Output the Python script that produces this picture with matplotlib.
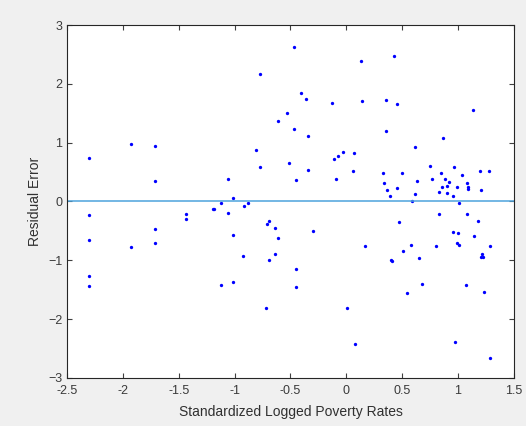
import numpy as np
import matplotlib
matplotlib.use('Agg')
import matplotlib.pyplot as plt

# standardized logged poverty rate (x) and residual error (y)
pov = [-2.30, -2.30, -2.30, -2.30, -2.30,
       -1.93, -1.93,
       -1.71, -1.71, -1.71, -1.71,
       -1.435, -1.435, -1.19, -1.18, -1.119, -1.119, -1.063, -1.063, -1.012, -1.012, -1.012,
       -0.92, -0.922, -0.881, -0.806, -0.777, -0.777, -0.717, -0.714, -0.69, -0.69,
       -0.637, -0.637, -0.613, -0.613, -0.527, -0.509, -0.47, -0.47, -0.453, -0.453, -0.453,
       -0.405, -0.357, -0.342, -0.342, -0.30, -0.125, -0.107, -0.089, -0.077, -0.03,
       0.006, 0.06, 0.065, 0.078, 0.134, 0.137, 0.167,
       0.324, 0.339, 0.354, 0.357, 0.363, 0.393, 0.396, 0.411, 0.43, 0.452, 0.455, 0.476,
       0.5, 0.509, 0.539, 0.583, 0.589, 0.616, 0.616, 0.634, 0.649, 0.676,
       0.75, 0.771, 0.806, 0.83, 0.83, 0.845, 0.857, 0.866, 0.881, 0.899, 0.902, 0.917,
       0.952, 0.955, 0.961, 0.97, 0.988, 0.991, 0.997, 1.009, 1.012, 1.039,
       1.069, 1.078, 1.08, 1.086, 1.089, 1.137, 1.146, 1.179, 1.196, 1.205, 1.205,
       1.217, 1.22, 1.232, 1.28, 1.283, 1.283]
resid = [0.737, -0.226, -0.656, -1.273, -1.43,
         0.975, -0.78,
         0.94, 0.346, -0.475, -0.713,
         -0.214, -0.294, -0.136, -0.136, -0.03, -1.426, 0.374, -0.204, 0.058, -0.57, -1.363,
         -0.08, -0.92, -0.03, 0.883, 2.16, 0.584, -1.817, -0.39, -0.333, -0.995,
         -0.45, -0.90, 1.375, -0.617, 1.50, 0.652, 2.63, 1.24, 0.363, -1.143, -1.453,
         1.846, 1.75, 1.11, 0.527, -0.497, 1.68, 0.73, 0.39, 0.776, 0.838,
         -1.81, 0.516, 0.827, -2.43, 2.39, 1.705, -0.764,
         0.476, 0.317, 1.727, 1.20, 0.199, 0.085, -1.00, -1.007, 2.48, 1.654, 0.227, -0.356,
         0.487, -0.842, -1.55, -0.735, 0.007, 0.923, 0.119, 0.34, -0.968, -1.403,
         0.60, 0.39, -0.752, 0.16, -0.209, 0.487, 0.238, 1.087, 0.374, 0.136, 0.267, 0.334,
         0.085, -0.52, 0.594, -2.394, -0.706, 0.25, -0.537, -0.027, -0.735, 0.448,
         -1.42, -0.209, 0.306, 0.238, 0.216, 1.562, -0.587, -0.328, 0.51, 0.199, -0.944,
         -0.893, -0.95, -1.538, 0.51, -0.752, -2.654]

plt.rcParams['font.family'] = ['Liberation Sans', 'DejaVu Sans']
plt.rcParams['font.size'] = 9

fig = plt.figure(figsize=(5.26, 4.26), dpi=100, facecolor='#f0f0f0')
ax = fig.add_axes([0.1274, 0.1127, 0.8496, 0.8286])
ax.set_facecolor('white')

ax.plot(pov, resid, 'o', color='#0000ff', markersize=2.4, markeredgewidth=0)
ax.axhline(0, color='#4da3dc', linewidth=1.1)

ax.set_xlim(-2.5, 1.5)
ax.set_ylim(-3, 3)
ax.set_xticks(np.arange(-2.5, 1.51, 0.5))
ax.set_xticklabels(['-2.5', '-2', '-1.5', '-1', '-0.5', '0', '0.5', '1', '1.5'])
ax.set_yticks(range(-3, 4))
ax.tick_params(direction='in', top=True, right=True, length=3.5, width=0.8,
               colors='#404040', labelcolor='#3a3a3a', labelsize=9)
ax.tick_params(axis='x', pad=5)
for s in ax.spines.values():
    s.set_color('#262626')
    s.set_linewidth(0.8)

ax.set_xlabel('Standardized Logged Poverty Rates', fontsize=10, color='#303030', labelpad=6)
ax.set_ylabel('Residual Error', fontsize=10, color='#303030')

fig.savefig('out.png', dpi=100, facecolor=fig.get_facecolor())
